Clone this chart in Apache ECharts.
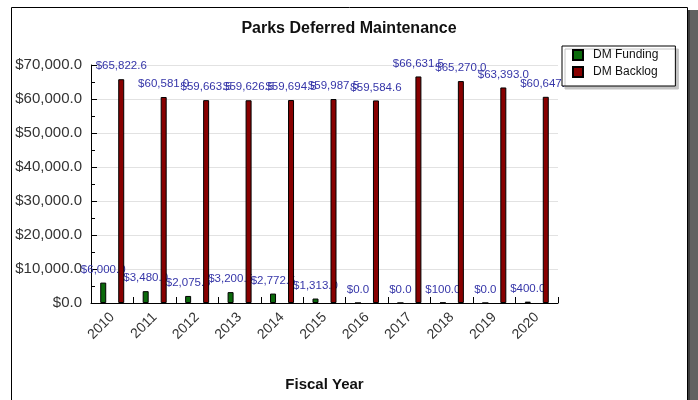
<!DOCTYPE html>
<html>
<head>
<meta charset="utf-8">
<title>Parks Deferred Maintenance</title>
<script src="https://cdn.jsdelivr.net/npm/echarts@6/dist/echarts.min.js"></script>
<style>
  html, body { margin: 0; padding: 0; background: #fff; }
  #chart { width: 698px; height: 400px; }
</style>
</head>
<body>
<div id="chart"></div>
<script>
// fiscal years on the x axis
var years = ["2010", "2011", "2012", "2013", "2014", "2015", "2016", "2017", "2018", "2019", "2020"];
// DM funding per year
var dmFunding = [6000.0, 3480.0, 2075.5, 3200.5, 2772.5, 1313.0, 0.0, 0.0, 100.0, 0.0, 400.0];
// DM backlog per year
var dmBacklog = [65822.6, 60581.0, 59663.5, 59626.5, 59694.5, 59987.5, 59584.6, 66631.5, 65270.0, 63393.0, 60647.5];
// y axis range
var yMin = 0;
var yMax = 70000;
var yStep = 10000;

var font = "Liberation Sans, Arial, sans-serif";

function money(v) {
  return "$" + Number(v).toLocaleString("en-US", { minimumFractionDigits: 1, maximumFractionDigits: 1 });
}

var chart = echarts.init(document.getElementById("chart"));

var barLabel = {
  show: true,
  position: "top",
  distance: 7,
  color: "#3535a8",
  fontSize: 11.5,
  fontFamily: font,
  formatter: function (p) { return money(p.value); }
};

var option = {
  backgroundColor: "#fff",
  animation: false,
  graphic: [
    // drop shadow on the right of the frame
    { type: "rect", z: -10, shape: { x: 688, y: 10, width: 12, height: 400 }, style: { fill: "#626262" } },
    { type: "rect", z: -9, shape: { x: 688, y: 10, width: 2, height: 400 }, style: { fill: "#3e3e3e" } },
    // chart frame
    { type: "rect", z: -8, shape: { x: 11.5, y: 7.5, width: 676, height: 400 }, style: { fill: "#fff", stroke: "#000", lineWidth: 1 } }
  ],
  title: {
    text: "Parks Deferred Maintenance",
    left: "center",
    top: 16,
    textStyle: { fontFamily: font, fontSize: 16, fontWeight: "bold", color: "#111" }
  },
  legend: {
    orient: "vertical",
    left: 562,
    top: 46,
    padding: [3, 17, 8, 10],
    itemWidth: 10,
    itemHeight: 10,
    itemGap: 5,
    icon: "rect",
    backgroundColor: "#fff",
    borderColor: "#000",
    borderWidth: 1,
    shadowColor: "#c4c4c4",
    shadowBlur: 0,
    shadowOffsetX: 3,
    shadowOffsetY: 3,
    textStyle: { fontFamily: font, fontSize: 12, color: "#111", lineHeight: 12, padding: [0, 0, 0, 5] },
    data: ["DM Funding", "DM Backlog"]
  },
  grid: { left: 91, right: 140, top: 65, bottom: 97 },
  xAxis: {
    type: "category",
    data: years,
    name: "Fiscal Year",
    nameLocation: "middle",
    nameGap: 74,
    nameTextStyle: { fontFamily: font, fontSize: 15, fontWeight: "bold", color: "#111" },
    axisLine: { lineStyle: { color: "#000", width: 1 } },
    axisTick: { show: true, inside: true, length: 6, interval: 0, lineStyle: { color: "#000" } },
    axisLabel: { rotate: 45, margin: 12, fontFamily: font, fontSize: 14, color: "#333", interval: 0 }
  },
  yAxis: {
    type: "value",
    min: yMin,
    max: yMax,
    interval: yStep,
    axisLine: { show: true, lineStyle: { color: "#000", width: 1 } },
    axisTick: { show: true, inside: true, length: 6, lineStyle: { color: "#000" } },
    minorTick: { show: true, splitNumber: 2, length: 4, lineStyle: { color: "#000" } },
    splitLine: { show: true, lineStyle: { color: "#e2e2e2", width: 1 } },
    axisLabel: { margin: 9, fontFamily: font, fontSize: 15, color: "#333", formatter: money }
  },
  series: [
    {
      name: "DM Funding",
      type: "bar",
      z: 2,
      barWidth: 6,
      barGap: "200%",
      data: dmFunding,
      itemStyle: { color: "#0b6a0b", borderColor: "#000", borderWidth: 1 },
      label: barLabel
    },
    {
      name: "DM Backlog",
      type: "bar",
      z: 3,
      barWidth: 6,
      barGap: "200%",
      data: dmBacklog,
      itemStyle: { color: "#880000", borderColor: "#000", borderWidth: 1 },
      label: barLabel
    }
  ]
};

chart.setOption(option);
</script>
</body>
</html>
